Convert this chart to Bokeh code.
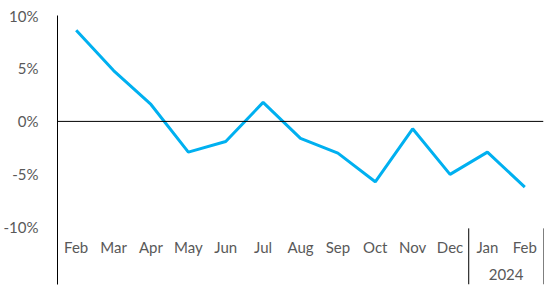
from bokeh.plotting import figure
from bokeh.models import FixedTicker, Range1d, Span, ColumnDataSource
from bokeh.core.properties import value
from bokeh.embed import file_html
from bokeh.resources import INLINE

months = ["Feb", "Mar", "Apr", "May", "Jun", "Jul", "Aug", "Sep", "Oct", "Nov", "Dec", "Jan", "Feb"]
values = [8.6, 4.8, 1.6, -2.9, -1.9, 1.8, -1.6, -3.0, -5.7, -0.7, -5.0, -2.9, -6.2]
year_label = "2024"
year_start_index = 11
y_ticks = [-10, -5, 0, 5, 10]
y_tick_labels = {-10: "-10%", -5: "-5%", 0: "0%", 5: "5%", 10: "10%"}

FONT = "Lato"
GREY = "#595959"

n = len(months)
xs = [i + 0.5 for i in range(n)]

p = figure(width=558, height=291, output_backend="svg", toolbar_location=None,
           x_range=Range1d(0, n), y_range=Range1d(-15.4, 10),
           min_border_left=57, min_border_right=15, min_border_top=15, min_border_bottom=7)
p.outline_line_color = None
p.xgrid.visible = False
p.ygrid.visible = False
p.xaxis.visible = False

ya = p.yaxis[0]
ya.ticker = FixedTicker(ticks=y_ticks)
ya.major_label_overrides = y_tick_labels
ya.major_tick_line_color = None
ya.minor_tick_line_color = None
ya.axis_line_color = "black"
ya.axis_line_width = 1
ya.major_label_standoff = 13
ya.major_label_text_font = FONT
ya.major_label_text_font_size = "15px"
ya.major_label_text_color = GREY

p.add_layout(Span(location=0, dimension="width", line_color="black", line_width=1))

src = ColumnDataSource(dict(x=xs, y=values))
p.line("x", "y", source=src, line_color="#00B0F0", line_width=3)

# category labels
lab = ColumnDataSource(dict(x=xs, y=[-11.9] * n, t=months))
p.text("x", "y", text="t", source=lab, text_align="center", text_baseline="middle",
       text_font=value(FONT), text_font_size="15px", text_color=GREY)

# year label and separators
yx = (year_start_index + n) / 2
p.text([yx], [-14.5], text=[year_label], text_align="center", text_baseline="middle",
       text_font=value(FONT), text_font_size="15px", text_color=GREY)
p.segment(x0=[year_start_index, n], y0=[-10.1, -10.1], x1=[year_start_index, n], y1=[-15.4, -15.4],
          line_color="black", line_width=1)

open("out.html", "w").write(file_html(p, INLINE))
